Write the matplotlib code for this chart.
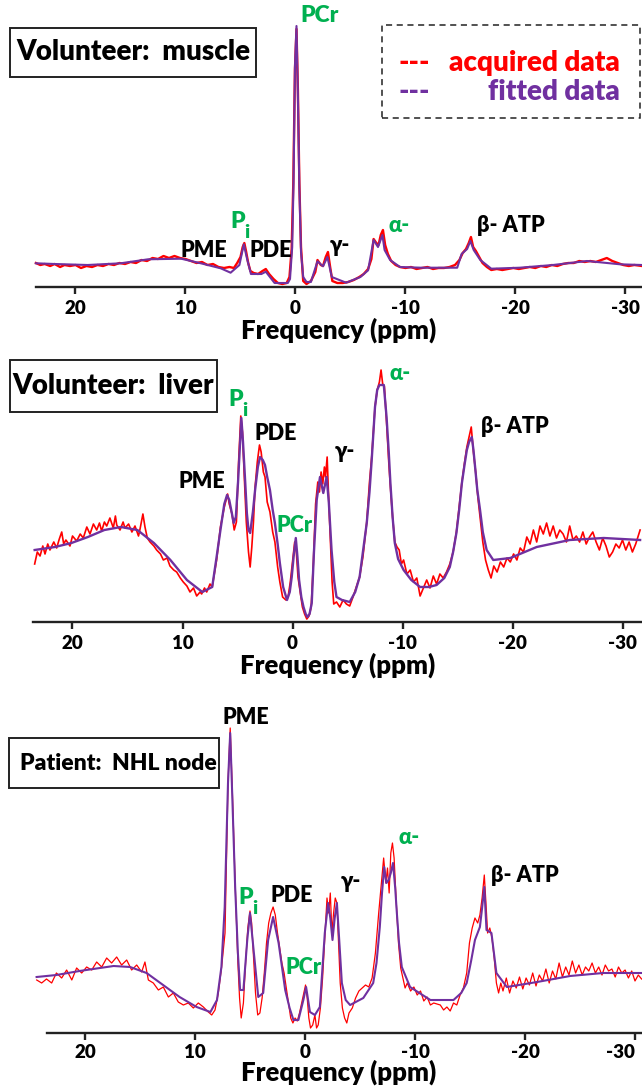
import matplotlib
matplotlib.use('Agg')
import matplotlib.pyplot as plt
from matplotlib.patches import Rectangle

plt.rcParams['font.family'] = ['Lato', 'DejaVu Sans']
plt.rcParams['font.weight'] = 'bold'
plt.rcParams['axes.unicode_minus'] = False

RED = '#ff0000'
PURPLE = '#7030a0'
GREEN = '#00b050'

tick_values = [20, 10, 0, -10, -20, -30]

# Volunteer muscle: fitted and acquired spectra (ppm, height)
muscle_fit_ppm = [23.6, 21.9, 18.9, 15.9, 13.4, 10.4, 8.6, 6.8, 5.9, 5.1, 4.7, 4.4, 4.05, 3.1, 2.7,
                  1.9, 0.7, 0.5, 0.3, 0.18, 0.05, -0.09, -0.22, -0.35, -0.5, -0.7, -1.0, -1.4, -2.0,
                  -2.5, -2.9, -3.3, -4.6, -5.9, -6.6, -7.1, -7.5, -7.9, -8.1, -8.6, -9.5, -11.4,
                  -14.7, -15.1, -15.6, -15.9, -16.2, -16.8, -17.8, -20.4, -23.4, -26.5, -29.5, -31.5]
muscle_fit = [23.7, 23, 22, 23.7, 27.7, 28.3, 23.7, 18.7, 14.3, 22, 42.7, 28, 13, 13, 15.3,
              4, 4, 8, 40, 104, 220, 261, 190, 100, 35, 10, 5, 5, 25.7,
              20.7, 30, 10, 4.3, 10, 16.7, 47, 40, 52, 37, 27, 20, 19.3,
              19.3, 33, 38, 46, 37, 27, 18.3, 19.3, 22, 26, 22.7, 22]
muscle_acq_ppm = [23.6, 23.2, 22.8, 22.3, 21.9, 21.4, 21.0, 20.5, 20.0, 19.5, 19.0, 18.5, 18.0,
                  17.5, 17.0, 16.5, 16.0, 15.5, 15.0, 14.5, 14.0, 13.5, 13.0, 12.5, 12.0, 11.5,
                  11.0, 10.5, 10.0, 9.5, 9.0, 8.5, 8.0, 7.5, 7.0, 6.5, 6.0, 5.6, 5.3, 5.0, 4.8,
                  4.65, 4.5, 4.3, 4.1, 3.8, 3.4, 3.0, 2.7, 2.4, 2.0, 1.6, 1.2, 0.8, 0.55, 0.35,
                  0.2, 0.05, -0.09, -0.22, -0.35, -0.5, -0.7, -1.0, -1.4, -1.8, -2.0, -2.3, -2.5,
                  -2.75, -2.95, -3.15, -3.35, -3.8, -4.3, -4.8, -5.3, -5.8, -6.2, -6.6, -6.9,
                  -7.1, -7.35, -7.55, -7.75, -7.95, -8.15, -8.4, -8.7, -9.1, -9.5, -10.0, -10.5,
                  -11.0, -11.5, -12.0, -12.5, -13.0, -13.5, -14.0, -14.5, -14.9, -15.2, -15.5,
                  -15.75, -15.95, -16.15, -16.4, -16.7, -17.0, -17.4, -17.8, -18.3, -18.8, -19.3,
                  -19.8, -20.3, -20.8, -21.3, -21.8, -22.3, -22.8, -23.3, -23.8, -24.3, -24.8,
                  -25.3, -25.8, -26.3, -26.8, -27.3, -27.8, -28.3, -28.8, -29.3, -29.8, -30.3,
                  -30.8, -31.5]
muscle_acq = [24, 22, 23, 21, 23, 20, 22, 21, 22, 19, 21, 20, 22,
              21, 23, 22, 24, 23, 25, 24, 27, 26, 29, 28, 31, 29,
              31, 29, 28, 26, 24, 25, 22, 23, 20, 19, 20, 19, 24, 30, 40,
              44, 36, 24, 16, 14, 13, 16, 18, 13, 8, 4, 3, 4, 10, 38,
              104, 218, 258, 196, 104, 40, 6, 3, 6, 15, 27, 22, 21,
              30, 35, 20, 6, 4, 4, 5, 7, 10, 13, 18, 28,
              48, 44, 42, 52, 57, 42, 33, 26, 22, 20, 19, 20,
              18, 19, 20, 18, 19, 19, 20, 22, 27, 34, 38,
              44, 50, 40, 36, 30, 24, 20, 17, 18, 17, 18,
              19, 18, 19, 20, 19, 21, 20, 22, 21, 23, 24,
              24, 26, 25, 26, 25, 27, 29, 26, 24, 22, 21,
              22, 21]

# Volunteer liver
liver_fit_ppm = [23.44, 21.6, 20.1, 18.6, 17.1, 15.6, 14.1, 12.6, 11.1, 9.6, 8.2, 7.3, 6.9, 6.55,
                 6.2, 5.95, 5.75, 5.5, 5.35, 5.15, 4.95, 4.8, 4.65, 4.5, 4.3, 4.15, 4.0, 3.85, 3.6,
                 3.4, 3.15, 2.95, 2.7, 2.5, 2.3, 2.05, 1.8, 1.6, 1.35, 1.15, 0.85, 0.5, 0.25, 0.07,
                 -0.1, -0.3, -0.45, -0.6, -0.8, -1.0, -1.2, -1.35, -1.55, -1.75, -1.95, -2.2, -2.5,
                 -2.8, -3.1, -3.3, -3.55, -3.8, -4.0, -4.5, -5.2, -5.7, -6.1, -6.4, -6.75, -7.0,
                 -7.2, -7.5, -7.7, -7.9, -8.3, -8.55, -8.75, -8.9, -9.1, -9.3, -9.6, -10.1, -10.8,
                 -11.6, -12.4, -13.1, -13.8, -14.3, -14.6, -14.9, -15.15, -15.4, -15.65, -15.85,
                 -16.05, -16.3, -16.45, -16.6, -16.8, -17.05, -17.3, -17.65, -18.25, -19.8, -22.2,
                 -25.2, -28.3, -31.6]
liver_fit = [72, 75, 79, 85, 92, 95, 92, 79, 62, 42, 30, 35, 65, 92,
             118, 127, 122, 108, 99, 105, 140, 172, 204, 180, 140, 109, 92, 89, 110,
             132, 155, 165, 162, 157, 145, 132, 112, 99, 78, 59, 35, 22, 30, 45,
             65, 84, 65, 42, 25, 15, 8, 5, 8, 19, 70, 122, 145,
             129, 145, 120, 72, 40, 25, 22, 20, 30, 45, 70, 99, 130,
             162, 215, 232, 237, 237, 205, 170, 139, 105, 79, 63, 52, 42,
             35, 35, 37, 44, 55, 70, 89, 112, 139, 158, 172,
             180, 185, 172, 155, 132, 112, 90, 72, 62, 64, 75,
             82, 84, 82]
liver_acq_ppm = [23.44, 23.2, 22.95, 22.7, 22.5, 22.25, 22.05, 21.7, 21.44, 21.2, 20.98, 20.8,
                 20.6, 20.23, 20.0, 19.62, 19.3, 19.02, 18.7, 18.41, 18.1, 17.8, 17.55, 17.35,
                 17.1, 16.89, 16.6, 16.29, 16.1, 15.98, 15.68, 15.4, 15.23, 14.9, 14.6, 14.32,
                 14.0, 13.86, 13.6, 13.41, 13.2, 12.95, 12.6, 12.35, 12.0, 11.74, 11.4, 11.14,
                 10.8, 10.53, 10.2, 9.93, 9.6, 9.32, 9.0, 8.71, 8.4, 8.26, 8.0, 7.8, 7.5, 7.3,
                 6.9, 6.55, 6.2, 5.9, 5.75, 5.5, 5.3, 5.1, 4.9, 4.7, 4.55, 4.4, 4.2, 4.0, 3.85,
                 3.7, 3.55, 3.4, 3.2, 3.0, 2.85, 2.65, 2.5, 2.3, 2.05, 1.8, 1.6, 1.35, 1.15, 0.9,
                 0.6, 0.4, 0.2, 0.0, -0.2, -0.35, -0.5, -0.7, -0.9, -1.1, -1.3, -1.5, -1.7, -1.9,
                 -2.1, -2.3, -2.45, -2.6, -2.75, -2.9, -3.0, -3.15, -3.3, -3.45, -3.6, -3.75,
                 -4.0, -4.3, -4.6, -4.9, -5.2, -5.5, -5.8, -6.1, -6.4, -6.75, -7.0, -7.2, -7.5,
                 -7.7, -7.9, -8.05, -8.2, -8.35, -8.55, -8.75, -8.9, -9.1, -9.3, -9.5, -9.7,
                 -9.9, -10.1, -10.4, -10.7, -11.0, -11.3, -11.6, -11.9, -12.2, -12.5, -12.8,
                 -13.1, -13.4, -13.7, -14.0, -14.3, -14.6, -14.9, -15.15, -15.4, -15.65, -15.85,
                 -16.05, -16.25, -16.45, -16.65, -16.85, -17.05, -17.3, -17.55, -17.8, -18.05,
                 -18.3, -18.6, -18.9, -19.2, -19.5, -19.8, -20.1, -20.4, -20.7, -21.0, -21.3,
                 -21.6, -21.9, -22.2, -22.5, -22.8, -23.1, -23.4, -23.7, -24.0, -24.3, -24.6,
                 -24.9, -25.2, -25.5, -25.8, -26.1, -26.4, -26.7, -27.0, -27.3, -27.6, -27.9,
                 -28.2, -28.5, -28.8, -29.1, -29.4, -29.7, -30.0, -30.3, -30.6, -30.9, -31.2,
                 -31.6]
liver_acq = [58, 70, 66, 76, 68, 78, 72, 80, 74, 83, 90, 78,
             82, 76, 86, 81, 88, 84, 95, 88, 98, 92, 99, 91,
             100, 96, 104, 94, 106, 97, 92, 100, 94, 98, 90, 96,
             86, 93, 108, 95, 84, 80, 76, 72, 68, 62, 64, 56,
             52, 50, 44, 40, 36, 30, 34, 26, 30, 28, 34, 30, 38, 35,
             62, 95, 115, 128, 118, 108, 92, 100, 160, 206, 190, 150, 100, 70, 55,
             75, 100, 135, 160, 177, 170, 150, 145, 120, 110, 90, 80, 55, 40, 25,
             22, 25, 40, 60, 80, 70, 45, 30, 15, 8, 3, 6, 15, 60,
             118, 140, 130, 150, 138, 155, 145, 165, 120, 80, 40, 18,
             20, 15, 22, 18, 16, 25, 35, 45, 65, 100, 140, 165, 215,
             232, 240, 252, 238, 236, 200, 160, 135, 105, 80, 75, 72,
             58, 62, 48, 52, 40, 44, 26, 34, 42, 34, 46,
             38, 48, 44, 50, 58, 70, 90, 115, 140, 160, 175,
             185, 195, 170, 150, 125, 105, 80, 62, 52, 44,
             56, 50, 60, 55, 64, 60, 68, 62, 74, 70, 85,
             78, 92, 80, 96, 88, 99, 86, 96, 84, 92, 88,
             80, 96, 82, 86, 80, 90, 78, 85, 90, 80, 72,
             84, 76, 65, 70, 78, 74, 82, 72, 80, 70, 78,
             92]

# Patient NHL node
node_fit_ppm = [24.4, 22.6, 20.5, 17.4, 15.9, 14.4, 12.9, 11.4, 9.85, 8.6, 8.0, 7.6, 7.3, 7.0, 6.8,
                6.6, 6.35, 6.1, 5.9, 5.6, 5.25, 5.0, 4.7, 4.25, 3.8, 3.35, 2.9, 2.4, 1.8, 1.4,
                1.05, 0.6, 0.15, -0.1, -0.45, -0.9, -1.35, -1.8, -2.1, -2.3, -2.5, -2.7, -2.9,
                -3.1, -3.35, -3.7, -4.1, -5.3, -6.2, -6.5, -6.8, -7.0, -7.2, -7.4, -7.6, -7.8,
                -8.0, -8.2, -8.35, -8.55, -8.8, -9.55, -11.4, -13.5, -14.2, -14.7, -15.1, -15.45,
                -15.9, -16.1, -16.3, -16.5, -16.95, -17.4, -18.35, -21.1, -24.1, -27.1, -30.6]
node_fit = [56, 58, 62, 67, 66, 60, 48, 36, 26, 21, 33, 66, 126, 250, 300,
            233, 146, 80, 43, 43, 93, 120, 86, 36, 40, 93, 116, 90, 43, 25,
            13, 13, 33, 46, 21, 18, 26, 100, 130, 115, 93, 115, 130,
            95, 50, 33, 28, 35, 50, 70, 106, 140, 166, 150, 153, 160,
            170, 145, 120, 90, 66, 46, 33, 33, 40, 50, 72, 93,
            106, 125, 146, 103, 100, 60, 46, 51, 57, 60, 60]
node_acq_ppm = [24.39, 23.94, 23.5, 23.03, 22.6, 22.12, 21.67, 21.2, 20.76, 20.3, 19.85, 19.39,
                18.94, 18.48, 18.03, 17.58, 17.12, 16.67, 16.21, 15.76, 15.3, 14.85, 14.55, 14.24,
                13.79, 13.33, 12.88, 12.42, 11.97, 11.52, 11.06, 10.61, 10.15, 9.7, 9.24, 8.79,
                8.48, 8.18, 7.88, 7.58, 7.27, 7.0, 6.8, 6.6, 6.35, 6.1, 5.95, 5.8, 5.6, 5.4, 5.2,
                5.0, 4.85, 4.7, 4.5, 4.3, 4.1, 3.9, 3.7, 3.5, 3.3, 3.1, 2.9, 2.7, 2.5, 2.3, 2.1,
                1.9, 1.7, 1.5, 1.3, 1.1, 0.9, 0.7, 0.5, 0.3, 0.15, -0.05, -0.2, -0.35, -0.5, -0.7,
                -0.9, -1.05, -1.2, -1.4, -1.6, -1.8, -2.0, -2.15, -2.3, -2.45, -2.6, -2.75, -2.9,
                -3.05, -3.2, -3.4, -3.6, -3.8, -4.0, -4.3, -4.6, -4.9, -5.2, -5.5, -5.8, -6.1,
                -6.4, -6.7, -6.95, -7.15, -7.35, -7.5, -7.65, -7.8, -7.95, -8.1, -8.3, -8.5, -8.7,
                -8.9, -9.1, -9.3, -9.6, -9.9, -10.2, -10.5, -10.8, -11.1, -11.4, -11.7, -12.0,
                -12.3, -12.6, -12.9, -13.2, -13.5, -13.8, -14.1, -14.4, -14.7, -14.95, -15.2,
                -15.45, -15.7, -15.9, -16.1, -16.3, -16.45, -16.6, -16.8, -17.0, -17.2, -17.4,
                -17.6, -17.8, -18.0, -18.3, -18.6, -18.9, -19.2, -19.5, -19.8, -20.1, -20.4,
                -20.7, -21.0, -21.3, -21.6, -21.9, -22.2, -22.5, -22.8, -23.1, -23.4, -23.7,
                -24.0, -24.3, -24.6, -24.9, -25.2, -25.5, -25.8, -26.1, -26.4, -26.7, -27.0,
                -27.3, -27.6, -27.9, -28.2, -28.5, -28.8, -29.1, -29.4, -29.7, -30.0, -30.3,
                -30.6]
node_acq = [53, 50, 54, 50, 60, 55, 63, 53, 65, 60, 66, 63,
            71, 66, 75, 70, 76, 68, 73, 63, 68, 61, 71, 53,
            50, 43, 46, 36, 40, 31, 28, 30, 25, 30, 26, 21,
            18, 23, 40, 66, 100, 250, 305, 240, 150, 70, 35, 15, 30, 70, 105,
            122, 110, 80, 40, 18, 20, 35, 60, 90, 110, 120, 126, 118, 100, 85, 70,
            60, 45, 30, 15, 10, 15, 12, 20, 30, 38, 48, 35, 15, 5, 8,
            18, 5, 8, 25, 55, 95, 135, 120, 140, 100, 120, 135, 130,
            90, 50, 25, 15, 10, 20, 25, 35, 42, 45, 48, 46, 55,
            80, 120, 150, 175, 150, 165, 140, 180, 190, 175, 130, 90, 65,
            55, 45, 50, 42, 46, 38, 42, 32, 36, 28, 30, 29,
            28, 23, 26, 22, 30, 28, 38, 45, 60, 90, 105,
            115, 110, 118, 135, 158, 130, 100, 105, 95, 75, 50,
            40, 50, 42, 55, 40, 52, 45, 56, 44, 55, 48,
            60, 47, 58, 52, 64, 50, 62, 54, 70, 56, 66,
            58, 72, 60, 68, 58, 66, 62, 70, 60, 66, 58,
            68, 62, 64, 56, 66, 60, 63, 55, 62, 52, 58,
            54]

W, H = 642, 1087
fig = plt.figure(figsize=(W / 100, H / 100), dpi=100)


def px_axes(left, top, bottom, x0, ymax, tickpad=4.5, labelpad=0):
    # axes placed in pixel units; x0 is the pixel column of 0 ppm, 11 px per ppm
    ax = fig.add_axes([left / W, 1 - bottom / H, (W - left) / W, (bottom - top) / H])
    ax.set_xlim((x0 - left) / 11.0, (x0 - W) / 11.0)
    ax.set_ylim(0, ymax)
    for s in ['top', 'left', 'right']:
        ax.spines[s].set_visible(False)
    ax.spines['bottom'].set_linewidth(1.7)
    ax.spines['bottom'].set_color('#222222')
    ax.set_yticks([])
    ax.set_xticks(tick_values)
    ax.set_xticklabels([str(v) for v in tick_values], fontsize=13.5, fontweight='heavy')
    ax.tick_params(axis='x', length=5, width=1.7, color='#222222', pad=tickpad)
    ax.set_xlabel('Frequency (ppm)', fontsize=18.5, fontweight='heavy', labelpad=labelpad)
    ax.patch.set_alpha(0)
    return ax


def ftext(x, y, s, color='black', size=15.5, ha='center'):
    fig.text(x / W, 1 - y / H, s, color=color, fontsize=size, fontweight='heavy',
             ha=ha, va='center')


def fbox(x0, y0, x1, y1, ls='-', lw=1.4):
    fig.patches.append(Rectangle((x0 / W, 1 - y1 / H), (x1 - x0) / W, (y1 - y0) / H,
                                 transform=fig.transFigure, fill=False, ec='#222222',
                                 lw=lw, ls=ls))


def p_i(x, y, size=16.5):
    # green P with a subscript i
    ftext(x, y, 'P', GREEN, size, ha='left')
    ftext(x + 14, y + 10, 'i', GREEN, size - 2.5, ha='left')


# panel 1
ax1 = px_axes(36, 20, 287, 295.5, 267)
ax1.plot(muscle_acq_ppm, muscle_acq, color=RED, lw=1.7, clip_on=False)
ax1.plot(muscle_fit_ppm, muscle_fit, color=PURPLE, lw=1.5, clip_on=False)
fbox(10, 28, 256, 77)
ftext(133, 52, 'Volunteer:  muscle', size=20)
fbox(382, 25, 640, 118, ls=(0, (4, 3)), lw=1.1)
ftext(398, 63, '---', RED, 20, ha='left')
ftext(620, 63, 'acquired data', RED, 20, ha='right')
ftext(398, 92, '---', PURPLE, 20, ha='left')
ftext(620, 92, 'fitted data', PURPLE, 20, ha='right')
ftext(320, 15, 'PCr', GREEN, 16.5)
ftext(204, 251, 'PME')
p_i(230, 222)
ftext(271, 251, 'PDE')
ftext(340, 245, 'γ-')
ftext(399, 225, 'α-', GREEN)
ftext(511, 226, 'β- ATP')

# panel 2
ax2 = px_axes(33, 355, 622, 292.5, 267)
ax2.plot(liver_acq_ppm, liver_acq, color=RED, lw=1.2, clip_on=False)
ax2.plot(liver_fit_ppm, liver_fit, color=PURPLE, lw=1.7, clip_on=False)
fbox(10, 360, 217, 412)
ftext(113, 386, 'Volunteer:  liver', size=20)
p_i(228, 400)
ftext(276, 434, 'PDE')
ftext(202, 481, 'PME')
ftext(295, 526, 'PCr', GREEN)
ftext(345, 452, 'γ-')
ftext(400, 373, 'α-', GREEN)
ftext(515, 427, 'β- ATP')

# panel 3
ax3 = px_axes(36, 700, 1033, 305.0, 333, tickpad=3, labelpad=-1.5)
ax3.spines['bottom'].set_bounds(23.5, (305.0 - W) / 11.0)
ax3.get_xticklabels()[-1].set_horizontalalignment('right')
ax3.plot(node_acq_ppm, node_acq, color=RED, lw=0.9, clip_on=False)
ax3.plot(node_fit_ppm, node_fit, color=PURPLE, lw=1.5, clip_on=False)
fbox(9, 738, 219, 788)
ftext(118, 764, 'Patient:  NHL node', size=16.5)
ftext(246, 718, 'PME')
p_i(238, 898)
ftext(292, 896, 'PDE')
ftext(304, 968, 'PCr', GREEN)
ftext(351, 881, 'γ-')
ftext(409, 838, 'α-', GREEN)
ftext(525, 875, 'β- ATP')

fig.savefig('out.png', dpi=100)
